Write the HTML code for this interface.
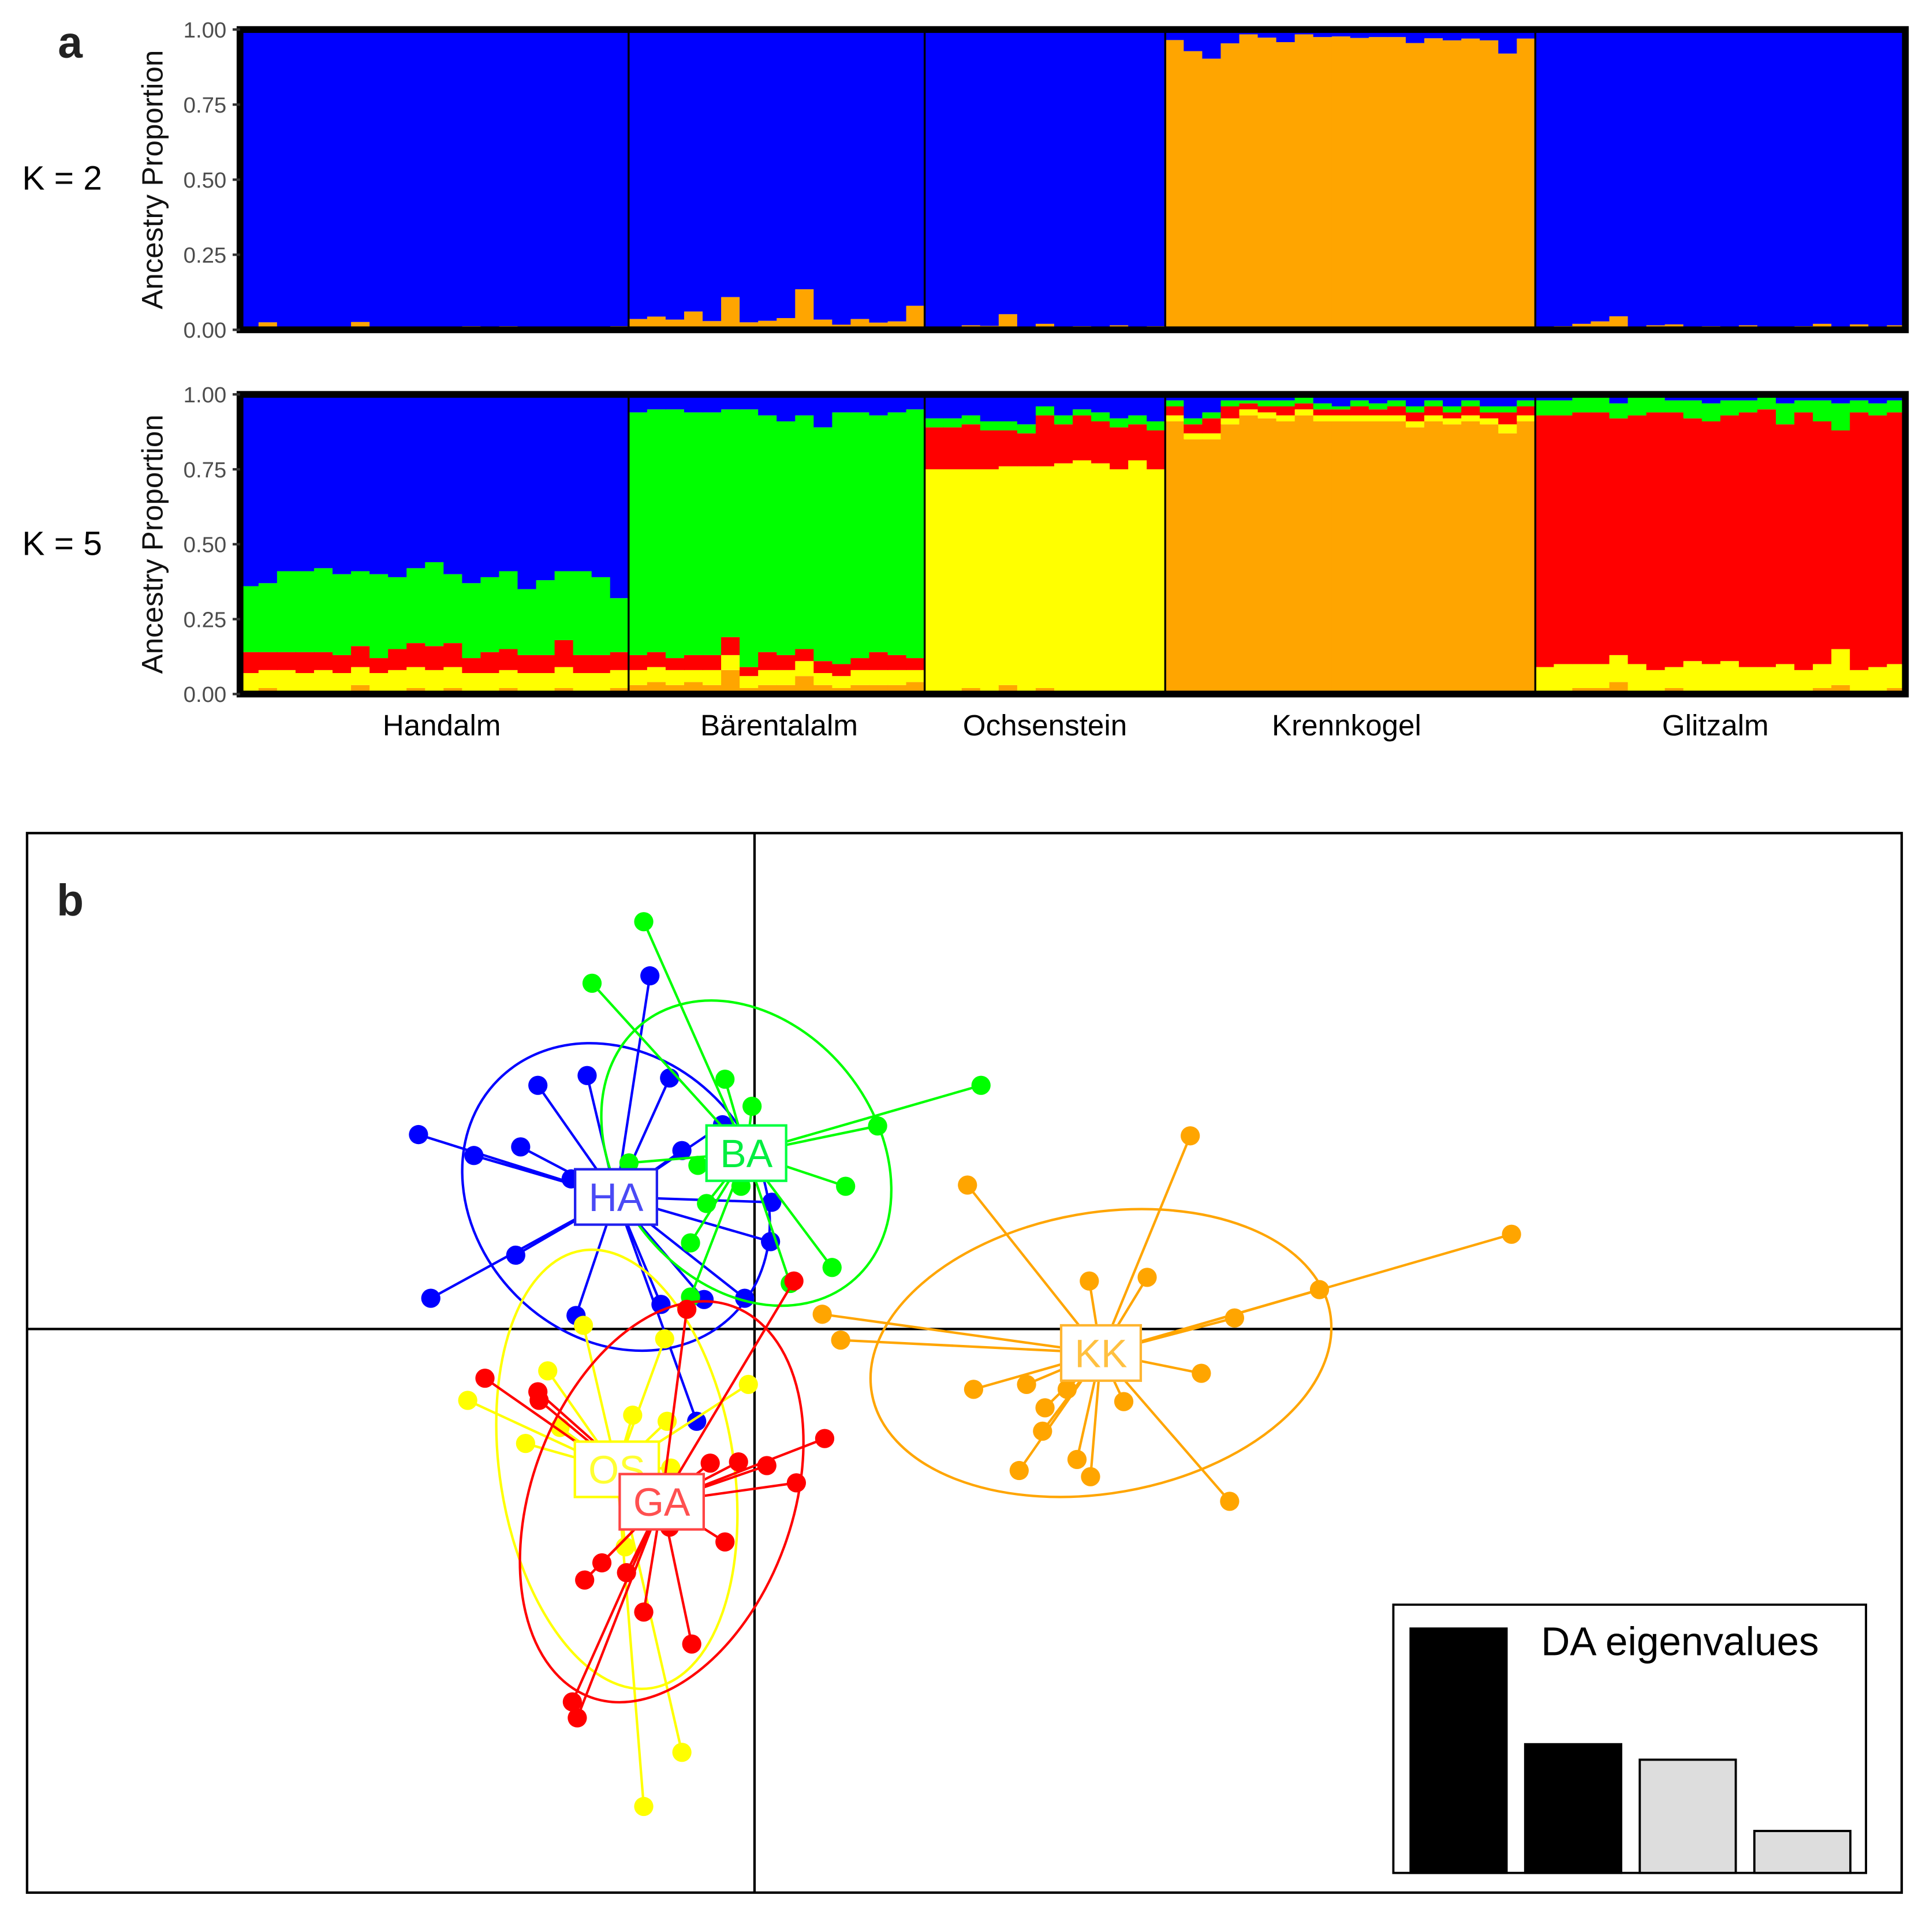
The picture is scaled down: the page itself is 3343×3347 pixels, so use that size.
<!DOCTYPE html>
<html><head><meta charset="utf-8"><title>Ancestry and DAPC</title>
<style>
html,body{margin:0;padding:0;background:#fff;}
svg{display:block;font-family:"Liberation Sans",Arial,sans-serif;}
</style></head>
<body>
<svg id="fig" xmlns="http://www.w3.org/2000/svg" width="3343" height="3347" viewBox="0 0 1568 1570" preserveAspectRatio="none">
<rect x="0" y="0" width="1568" height="1570" fill="#fff"/>
<text x="47" y="47" font-size="36" font-weight="bold" fill="#222">a</text>
<text x="18" y="154" font-size="27.5" fill="#000">K = 2</text>
<text x="18" y="451" font-size="27.5" fill="#000">K = 5</text>
<g id="panelA"></g>
<g id="panelB"></g>
</svg>
<script>
// ---------- Panel a data ----------
const popNames = ["Handalm","Bärentalalm","Ochsenstein","Krennkogel","Glitzalm"];
const popSizes = [21,16,13,20,20];
const yTicks = [0,0.25,0.5,0.75,1];
const yTickLabels = ["0.00","0.25","0.50","0.75","1.00"];
// K = 2 : orange cluster proportion (blue = remainder)
const k2Orange = [
.005,.025,.002,.002,.003,.002,.026,.005,.007,.008,.003,.007,.012,.007,.012,.003,.005,.007,.003,.004,.012,
.036,.044,.034,.061,.029,.109,.025,.030,.039,.135,.034,.017,.036,.024,.028,.080,
.007,.010,.015,.013,.052,.007,.020,.010,.012,.010,.015,.010,.012,
.965,.928,.903,.954,.984,.973,.958,.984,.975,.977,.972,.975,.975,.955,.971,.964,.970,.964,.920,.970,
.010,.012,.020,.028,.045,.010,.015,.018,.010,.012,.010,.015,.010,.010,.012,.020,.010,.018,.010,.015];
// K = 5 : orange, yellow, red, green (blue = remainder)
const k5Orange = [
.01,.02,.01,.01,.01,.01,.03,.01,.01,.02,.01,.02,.01,.01,.02,.01,.01,.02,.01,.01,.02,
.03,.04,.03,.04,.03,.08,.02,.03,.03,.06,.03,.02,.03,.03,.03,.04,
.01,.01,.02,.01,.03,.01,.02,.01,.01,.01,.01,.01,.01,
.91,.85,.85,.90,.93,.92,.91,.93,.91,.91,.91,.91,.91,.89,.91,.90,.91,.90,.87,.91,
.01,.01,.02,.02,.04,.01,.01,.02,.01,.01,.01,.01,.01,.01,.01,.02,.03,.01,.01,.02];
const k5Yellow = [
.06,.06,.07,.06,.07,.06,.06,.06,.07,.07,.07,.07,.06,.06,.06,.06,.06,.07,.06,.06,.06,
.05,.05,.05,.04,.05,.05,.04,.05,.05,.05,.04,.04,.05,.05,.05,.04,
.74,.74,.73,.74,.73,.75,.74,.76,.77,.76,.74,.77,.74,
.02,.02,.02,.02,.02,.02,.02,.02,.02,.02,.02,.02,.02,.02,.02,.02,.02,.02,.03,.02,
.08,.09,.08,.08,.09,.09,.07,.07,.10,.09,.10,.08,.08,.09,.07,.08,.12,.07,.08,.08];
const k5Red = [
.07,.06,.06,.07,.06,.06,.07,.05,.07,.08,.08,.08,.05,.07,.07,.06,.06,.09,.06,.06,.06,
.05,.05,.04,.05,.05,.06,.03,.06,.05,.04,.04,.04,.04,.06,.05,.04,
.14,.14,.15,.13,.12,.11,.17,.13,.15,.14,.14,.12,.13,
.03,.03,.05,.04,.02,.02,.03,.02,.02,.02,.03,.02,.03,.03,.03,.02,.03,.02,.04,.03,
.84,.83,.84,.84,.79,.83,.86,.85,.81,.81,.82,.85,.86,.80,.86,.81,.73,.86,.84,.84];
const k5Green = [
.22,.23,.27,.27,.28,.27,.25,.28,.24,.25,.28,.23,.25,.25,.26,.22,.25,.23,.28,.26,.18,
.81,.81,.83,.81,.81,.76,.86,.79,.78,.78,.78,.84,.82,.79,.81,.83,
.03,.03,.03,.03,.03,.03,.03,.03,.02,.03,.03,.03,.03,
.02,.02,.02,.02,.01,.02,.02,.02,.02,.01,.02,.02,.02,.02,.02,.02,.02,.02,.02,.02,
.05,.05,.05,.05,.05,.06,.05,.04,.06,.06,.05,.04,.04,.07,.04,.07,.09,.04,.04,.04];

// ---------- Panel b data (LD1, LD2) ----------
const groupNames = ["HA","BA","OS","GA","KK"];
const haLD1 = [-2.73,-2.28,-1.90,-1.76,-1.36,-0.85,-0.69,-0.59,-0.26,-1.49,0.14,0.13,-0.08,-0.41,-0.76,-1.45,-1.94,-2.63,-0.47];
const haLD2 = [1.58,1.41,1.48,1.98,2.06,2.87,2.04,1.45,1.66,1.22,1.03,0.71,0.25,0.24,0.20,0.11,0.60,0.25,-0.75];
const baLD1 = [-0.90,-1.32,-0.24,-0.02,1.84,1.00,0.74,0.63,-0.46,-1.02,-0.11,-0.39,-0.52,-0.52,0.29];
const baLD2 = [3.31,2.81,2.03,1.81,1.98,1.65,1.16,0.50,1.33,1.35,1.16,1.02,0.70,0.26,0.37];
const osLD1 = [-1.39,-0.73,-1.68,-2.33,-1.86,-0.99,-0.71,-0.05,-0.68,-1.05,-0.59,-0.90,-1.58];
const osLD2 = [0.03,-0.08,-0.34,-0.58,-0.93,-0.70,-0.75,-0.45,-1.13,-1.77,-3.44,-3.88,-0.80];
const gaLD1 = [-2.19,-1.76,-1.75,-0.55,0.32,-0.36,-0.13,0.10,0.57,0.34,-0.24,-0.69,-1.24,-1.38,-1.04,-0.90,-0.51,-1.48,-1.44];
const gaLD2 = [-0.40,-0.51,-0.58,0.16,0.39,-1.09,-1.08,-1.11,-0.89,-1.25,-1.73,-1.61,-1.90,-2.04,-1.98,-2.30,-2.56,-3.03,-3.16];
const kkLD1 = [3.54,1.73,6.15,4.59,3.90,2.72,3.19,0.55,0.70,3.63,3.00,1.78,2.21,2.54,2.36,2.34,2.15,2.62,2.73,3.86];
const kkLD2 = [1.57,1.17,0.77,0.32,0.09,0.39,0.42,0.12,-0.09,-0.36,-0.59,-0.49,-0.45,-0.49,-0.64,-0.83,-1.15,-1.06,-1.20,-1.40];
const eigenValues = [6.0,3.16,2.78,1.03];

const NS = "http://www.w3.org/2000/svg";
function mk(tag, attrs, parent){
  const e = document.createElementNS(NS, tag);
  for (const k in attrs) e.setAttribute(k, attrs[k]);
  parent.appendChild(e);
  return e;
}
const A = document.getElementById("panelA");
const B = document.getElementById("panelB");
const C = {orange:"#ffa500", yellow:"#ffff00", red:"#ff0000", green:"#00ff00", blue:"#0000ff"};

// ---------- Panel a ----------
const nInd = popSizes.reduce((a,b)=>a+b,0);
const xL = 195, xR = 1548;
const bw = (xR - xL) / nInd;
function xBar(i){ return xL + i*bw; }
function drawStructure(y0, y1, layers, name){
  const yS = v => y0 - v*(y0-y1);
  const g = mk("g", {}, A);
  
  
  for (let i=0;i<nInd;i++){
    let cum = 0;
    layers.forEach((L, li) => {
      const v = (L.vals === null) ? Math.max(0, 1 - cum) : L.vals[i];
      const r = mk("rect", {x: xBar(i), y: yS(cum+v), width: bw+0.35, height: Math.max(0, yS(cum)-yS(cum+v)), fill: L.color}, g);
      
      
      cum += v;
    });
  }
  let acc = 0;
  for (let p=0;p<popSizes.length-1;p++){
    acc += popSizes[p];
    const l = mk("line", {x1:xBar(acc), x2:xBar(acc), y1:yS(1), y2:yS(0), stroke:"#000", "stroke-width":1.6}, g);
    
    
  }
  const fr = mk("rect", {x:xL, y:yS(1), width:xR-xL, height:yS(0)-yS(1), fill:"none", stroke:"#000", "stroke-width":5.5}, g);
  
  
  yTicks.forEach((t, k) => {
    const tk = mk("line", {x1:189, x2:195, y1:yS(t), y2:yS(t), stroke:"#333", "stroke-width":2}, g);
    
    
    const tx = mk("text", {x:184, y:yS(t)+6.5, "text-anchor":"end", "font-size":18, fill:"#4d4d4d"}, g);
    tx.textContent = yTickLabels[k];
    
    
  });
  const ty = mk("text", {x:0, y:0, "text-anchor":"middle", "font-size":24, fill:"#111", transform:"translate(132,"+((y0+y1)/2)+") rotate(-90)"}, g);
  ty.textContent = "Ancestry Proportion";
  
  
}
drawStructure(268, 24, [
  {name:"orange", color:C.orange, vals:k2Orange},
  {name:"blue", color:C.blue, vals:null}], "k2-structure-plot");
drawStructure(564, 320.5, [
  {name:"orange", color:C.orange, vals:k5Orange},
  {name:"yellow", color:C.yellow, vals:k5Yellow},
  {name:"red", color:C.red, vals:k5Red},
  {name:"green", color:C.green, vals:k5Green},
  {name:"blue", color:C.blue, vals:null}], "k5-structure-plot");
const popLabelShift = [6, 2, 0, -3, -4];
{
  let acc = 0;
  popNames.forEach((n, p) => {
    const cx = xBar(acc + popSizes[p]/2) + popLabelShift[p];
    acc += popSizes[p];
    const t = mk("text", {x:cx, y:597.5, "text-anchor":"middle", "font-size":24, fill:"#000"}, A);
    t.textContent = n;
    
    
  });
}

// ---------- Panel b ----------
const ox = 613, oy = 1080, sc = 100;
const px = v => ox + v*sc;
const py = v => oy - v*sc;
const frameB = mk("rect", {x:22, y:677, width:1523, height:861, fill:"none", stroke:"#000", "stroke-width":2}, B);


const vAx = mk("line", {x1:px(0), x2:px(0), y1:677, y2:1538, stroke:"#000", "stroke-width":2}, B);


const hAx = mk("line", {x1:22, x2:1545, y1:py(0), y2:py(0), stroke:"#000", "stroke-width":2}, B);


const bLab = mk("text", {x:46, y:744, "font-size":36, "font-weight":"bold", fill:"#222"}, B);
bLab.textContent = "b";



const groups = [
  {id:"HA", xs:haLD1, ys:haLD2, col:"#0000ff", txt:"#4a4af5", box:"#2020ee", rx:135, ry:114, rot:45},
  {id:"BA", xs:baLD1, ys:baLD2, col:"#00ff00", txt:"#00ee40", box:"#00ff40", rx:135, ry:105, rot:51},
  {id:"OS", xs:osLD1, ys:osLD2, col:"#ffff00", txt:"#ffff33", box:"#ffff00", rx:180, ry:95, rot:81},
  {id:"GA", xs:gaLD1, ys:gaLD2, col:"#ff0000", txt:"#ff5050", box:"#ff4444", rx:169, ry:106, rot:-70},
  {id:"KK", xs:kkLD1, ys:kkLD2, col:"#ffa500", txt:"#ffc040", box:"#ffb530", rx:189, ry:114, rot:-10}
];
const centers = [];
groups.forEach(G => {
  const n = G.xs.length;
  const mx = G.xs.reduce((a,b)=>a+b,0)/n, my = G.ys.reduce((a,b)=>a+b,0)/n;
  const cx = px(mx), cy = py(my);
  centers.push([cx, cy]);
  const g = mk("g", {}, B);
  
  
  const el = mk("ellipse", {cx:0, cy:0, rx:G.rx, ry:G.ry, fill:"none", stroke:G.col, "stroke-width":2, transform:"translate("+cx+","+cy+") rotate("+G.rot+")"}, g);
  
  
  for (let i=0;i<n;i++){
    const ln = mk("line", {x1:cx, y1:cy, x2:px(G.xs[i]), y2:py(G.ys[i]), stroke:G.col, "stroke-width":2}, g);
    
    
  }
  for (let i=0;i<n;i++){
    const pt = mk("circle", {cx:px(G.xs[i]), cy:py(G.ys[i]), r:7.8, fill:G.col}, g);
    
    
  }
});
groups.forEach((G, k) => {
  const [cx, cy] = centers[k];
  const g = mk("g", {}, B);
  
  
  const rc = mk("rect", {x:cx-33, y:cy-22.5, width:66, height:45, fill:"#fff", stroke:G.box, "stroke-width":2}, g);
  
  
  const t = mk("text", {x:cx, y:cy+11.5, "text-anchor":"middle", "font-size":32, fill:G.txt}, g);
  t.textContent = G.id;
  
  
  const w = t.getComputedTextLength() + 22;
  rc.setAttribute("x", cx - w/2);
  rc.setAttribute("width", w);
});

// eigenvalue inset
const ins = mk("g", {}, B);


const insBox = mk("rect", {x:1132, y:1304, width:384, height:218, fill:"#fff", stroke:"#000", "stroke-width":1.8}, ins);


const eMax = Math.max(...eigenValues);
const eBase = 1522, eH = 198.6, eX0 = 1146, eStep = 93.1, eW = 78;
eigenValues.forEach((v, i) => {
  const h = v/eMax*eH;
  const r = mk("rect", {x:eX0 + i*eStep, y:eBase-h, width:eW, height:h, fill: i<2 ? "#000" : "#dddddd", stroke:"#000", "stroke-width":1.8}, ins);
  
  
});
const eT = mk("text", {x:1252, y:1345, "font-size":32.5, fill:"#000"}, ins);
eT.textContent = "DA eigenvalues";


</script>
</body></html>
